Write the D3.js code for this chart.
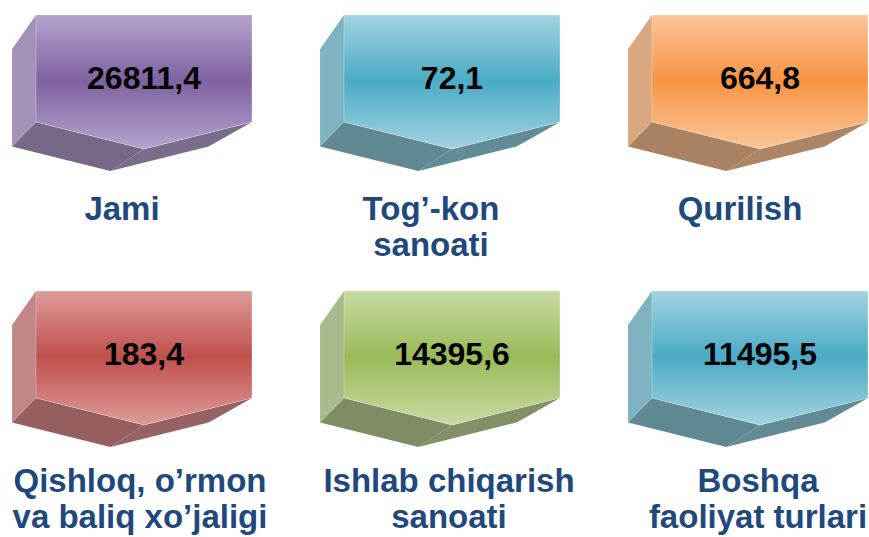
<!DOCTYPE html>
<html>
<head>
<meta charset="utf-8">
<script src="https://cdn.jsdelivr.net/npm/d3@7"></script>
<style>
  html, body { margin: 0; padding: 0; background: #ffffff; }
  svg { display: block; }
</style>
</head>
<body>
<div id="chart"></div>
<script>
// ---------- data ----------
const categories = [
  "Jami",
  "Tog’-kon sanoati",
  "Qurilish",
  "Qishloq, o’rmon va baliq xo’jaligi",
  "Ishlab chiqarish sanoati",
  "Boshqa faoliyat turlari"
];
const labelLines = [
  ["Jami"],
  ["Tog’-kon", "sanoati"],
  ["Qurilish"],
  ["Qishloq, o’rmon", "va baliq xo’jaligi"],
  ["Ishlab chiqarish", "sanoati"],
  ["Boshqa", "faoliyat turlari"]
];
const values = [26811.4, 72.1, 664.8, 183.4, 14395.6, 11495.5];

// ---------- styles ----------
const palettes = [
  { light: "#b4a3cd", mid: "#7f62a1", side: "#a391b9", bottom: "#766987", bottom2: "#7a6c8b" },
  { light: "#a2d3e1", mid: "#4aabc5", side: "#80b3c1", bottom: "#5f8893", bottom2: "#628b96" },
  { light: "#fbc699", mid: "#f69444", side: "#d9a881", bottom: "#a88262", bottom2: "#ab8565" },
  { light: "#dd9b99", mid: "#c0504d", side: "#c08786", bottom: "#945f5e", bottom2: "#976262" },
  { light: "#c7daa2", mid: "#9aba58", side: "#a9bb8c", bottom: "#7f8c64", bottom2: "#828f67" },
  { light: "#a2d3e1", mid: "#4aabc5", side: "#80b3c1", bottom: "#5f8893", bottom2: "#628b96" }
];
const labelColor = "#1f497d";
const fontFamily = "'Liberation Sans', Arial, Helvetica, sans-serif";

const W = 869, H = 537;
const svg = d3.select("#chart").append("svg")
  .attr("width", W).attr("height", H)
  .attr("viewBox", `0 0 ${W} ${H}`);

// ---------- layout scales ----------
const col = d3.scaleLinear().domain([0, 2]).range([36, 652]);
const row = d3.scaleLinear().domain([0, 1]).range([15, 291]);
const labelX = [d3.scaleLinear().domain([0, 2]).range([122, 740]),
                d3.scaleLinear().domain([0, 2]).range([140, 758])];
const labelY = d3.scaleLinear().domain([0, 1]).range([220, 492]);
const boxW = 216, boxH = 107, tip = 27;
const lineH = 36;
const labelSize = 33;

const fmt = d3.formatLocale({ decimal: ",", thousands: "", grouping: [3], currency: ["", ""] }).format(".1f");

const data = categories.map((c, i) => ({
  name: c, lines: labelLines[i], value: values[i],
  col: i % 3, row: Math.floor(i / 3), pal: palettes[i], i
}));

const defs = svg.append("defs");
data.forEach(d => {
  const g = defs.append("linearGradient")
    .attr("id", "grad" + d.i)
    .attr("x1", 0).attr("y1", 0).attr("x2", 0).attr("y2", 1);
  g.append("stop").attr("offset", "0%").attr("stop-color", d.pal.light);
  g.append("stop").attr("offset", "49%").attr("stop-color", d.pal.mid);
  g.append("stop").attr("offset", "100%").attr("stop-color", d.pal.light);
});

const line = d3.line();

const panels = svg.selectAll("g.panel").data(data).join("g").attr("class", "panel");

panels.each(function(d) {
  const g = d3.select(this);
  const x = col(d.col), y = row(d.row);
  const A = [x, y], B = [x + boxW, y], C = [x + boxW, y + boxH],
        D = [x + boxW / 2, y + boxH + tip], E = [x, y + boxH];
  const V = [x - 266, y + 378], s = 0.91;
  const back = p => [V[0] + s * (p[0] - V[0]), V[1] + s * (p[1] - V[1])];
  const A2 = back(A), C2 = back(C), D2 = back(D), E2 = back(E);

  // bottom-right face
  g.append("path").attr("d", line([D, C, C2, D2]) + "Z")
    .attr("fill", d.pal.bottom2);
  // bottom-left face
  g.append("path").attr("d", line([E, D, D2, E2]) + "Z")
    .attr("fill", d.pal.bottom);
  // left side face
  g.append("path").attr("d", line([A, E, E2, A2]) + "Z")
    .attr("fill", d.pal.side);
  // front face
  g.append("path").attr("d", line([A, B, C, D, E]) + "Z")
    .attr("fill", `url(#grad${d.i})`)
    .attr("stroke", "#ffffff").attr("stroke-opacity", 0.35).attr("stroke-width", 0.8);

  // value
  g.append("text")
    .attr("x", x + boxW / 2).attr("y", y + 74)
    .attr("text-anchor", "middle")
    .attr("font-family", fontFamily).attr("font-weight", "bold")
    .attr("font-size", 32).attr("fill", "#000000")
    .text(fmt(d.value));

  // label
  const t = g.append("text")
    .attr("text-anchor", "middle")
    .attr("font-family", fontFamily).attr("font-weight", "bold")
    .attr("font-size", labelSize).attr("fill", labelColor);
  d.lines.forEach((ln, k) => {
    t.append("tspan")
      .attr("x", labelX[d.row](d.col))
      .attr("y", labelY(d.row) + k * lineH)
      .text(ln);
  });
});
</script>
</body>
</html>
